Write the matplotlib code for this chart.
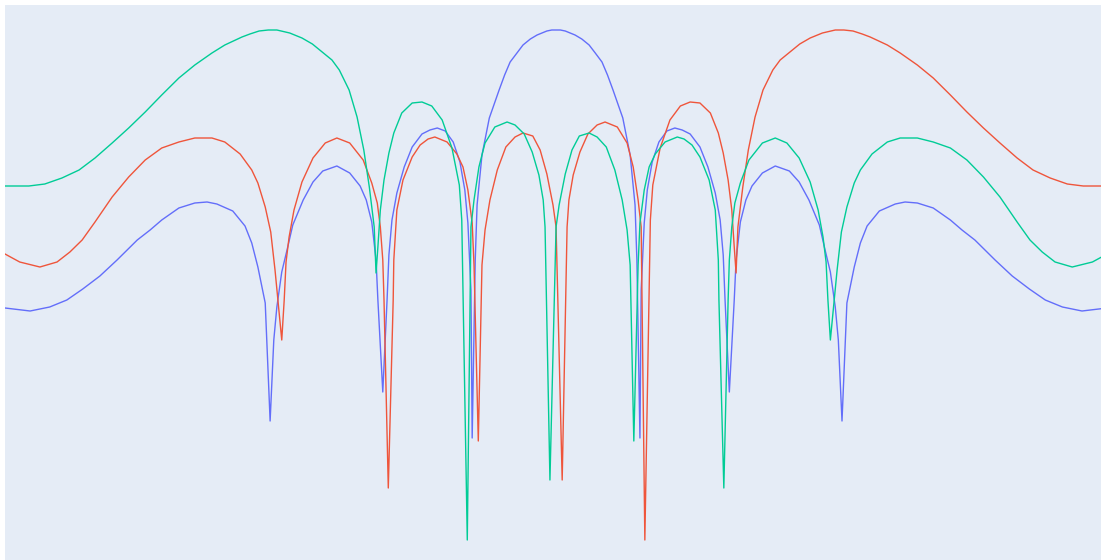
import matplotlib
matplotlib.use("Agg")
import matplotlib.pyplot as plt

# array pattern, angle in degrees, level in dB (relative)
blue_angle = [-90.0, -85.9, -82.7, -79.9, -77.3, -74.5, -71.7, -68.4, -66.3, -64.4,
              -61.6, -59.0, -57.0, -55.4, -52.8, -50.8, -49.7, -48.7, -47.5, -46.7,
              -46.1, -45.6, -44.8, -43.9, -43.0, -41.3, -39.7, -38.1, -35.8, -33.7,
              -32.0, -31.0, -30.1, -29.4, -29.1, -28.3, -27.6, -27.3, -26.8, -26.0,
              -24.8, -23.5, -21.9, -20.6, -19.4, -18.1, -16.8, -15.7, -14.9, -14.4,
              -13.9, -13.7, -13.2, -12.9, -12.1, -10.9, -9.3, -8.4, -7.5, -6.4,
              -5.4, -4.2, -3.1, -2.3, -1.5, -0.7, 0.0, 0.7, 1.5, 2.3,
              3.1, 4.2, 5.4, 6.4, 7.5, 8.4, 9.3, 10.9, 12.1, 12.9,
              13.2, 13.7, 13.9, 14.4, 14.9, 15.7, 16.8, 18.1, 19.4, 20.6,
              21.9, 23.5, 24.8, 26.0, 26.8, 27.3, 27.6, 28.3, 29.1, 29.4,
              30.1, 31.0, 32.0, 33.7, 35.8, 38.1, 39.7, 41.3, 43.0, 43.9,
              44.8, 45.6, 46.1, 46.7, 47.5, 48.7, 49.7, 50.8, 52.8, 55.4,
              57.0, 59.0, 61.6, 64.4, 66.3, 68.4, 71.7, 74.5, 77.3, 79.9,
              82.7, 85.9, 90.0]
blue_db = [-27.8, -28.1, -27.7, -27.0, -25.9, -24.6, -23.0, -21.0, -20.0, -19.0,
           -17.8, -17.3, -17.2, -17.4, -18.1, -19.6, -21.3, -23.7, -27.3, -39.1,
           -31.0, -27.7, -24.2, -21.9, -19.5, -17.0, -15.2, -14.1, -13.6, -14.3,
           -15.6, -17.0, -19.2, -23.0, -27.0, -36.2, -27.0, -22.5, -19.0, -16.3,
           -13.7, -11.7, -10.4, -10.0, -9.8, -10.1, -11.2, -13.2, -16.0, -19.3,
           -26.0, -40.8, -23.0, -17.5, -12.5, -8.8, -6.0, -4.5, -3.2, -2.3,
           -1.5, -0.9, -0.5, -0.3, -0.1, 0.0, 0.0, 0.0, -0.1, -0.3,
           -0.5, -0.9, -1.5, -2.3, -3.2, -4.5, -6.0, -8.8, -12.5, -17.5,
           -23.0, -40.8, -26.0, -19.3, -16.0, -13.2, -11.2, -10.1, -9.8, -10.0,
           -10.4, -11.7, -13.7, -16.3, -19.0, -22.5, -27.0, -36.2, -27.0, -23.0,
           -19.2, -17.0, -15.6, -14.3, -13.6, -14.1, -15.2, -17.0, -19.5, -21.9,
           -24.2, -27.7, -31.0, -39.1, -27.3, -23.7, -21.3, -19.6, -18.1, -17.4,
           -17.2, -17.3, -17.8, -19.0, -20.0, -21.0, -23.0, -24.6, -25.9, -27.0,
           -27.7, -28.1, -27.8]

red_angle = [-90.0, -87.6, -84.3, -81.5, -79.4, -77.4, -75.3, -72.5, -69.8, -67.1,
             -64.4, -61.6, -59.0, -56.2, -54.1, -51.6, -49.7, -48.7, -47.5, -46.6,
             -45.9, -44.8, -44.4, -44.1, -43.6, -42.8, -41.5, -39.7, -37.7, -35.8,
             -33.7, -31.5, -30.1, -29.2, -28.7, -28.3, -28.1, -27.4, -26.6, -26.5,
             -26.0, -25.0, -23.5, -22.2, -20.9, -19.8, -17.8, -16.2, -15.2, -14.4,
             -13.7, -13.4, -12.7, -12.1, -11.6, -10.8, -9.6, -8.2, -6.7, -5.4,
             -3.8, -2.6, -1.5, -0.5, 0.0, 1.0, 1.8, 2.1, 2.8, 3.9,
             5.2, 6.7, 8.0, 10.0, 11.6, 12.6, 13.4, 13.9, 14.5, 15.4,
             15.8, 17.0, 18.6, 20.3, 21.9, 23.5, 25.2, 26.5, 27.3, 28.1,
             28.7, 29.1, 29.4, 29.7, 30.5, 31.4, 32.5, 33.8, 35.4, 36.6,
             38.2, 39.8, 41.5, 43.5, 45.6, 47.0, 48.5, 50.0, 51.3, 52.7,
             54.1, 56.2, 59.0, 61.6, 64.4, 67.1, 69.8, 72.5, 75.3, 77.9,
             80.7, 83.5, 86.1, 90.0]
red_db = [-22.4, -23.2, -23.7, -23.2, -22.2, -21.0, -19.2, -16.7, -14.7, -13.0,
          -11.8, -11.2, -10.8, -10.8, -11.2, -12.4, -14.0, -15.3, -17.7, -20.2,
          -24.0, -31.0, -27.0, -23.2, -20.7, -18.0, -15.2, -12.8, -11.3, -10.8,
          -11.3, -13.0, -15.3, -17.3, -19.7, -23.0, -27.0, -45.8, -27.0, -23.0,
          -18.0, -15.0, -12.7, -11.5, -10.9, -10.7, -11.2, -12.4, -13.7, -16.0,
          -19.3, -23.5, -41.1, -23.5, -20.0, -17.0, -14.0, -11.7, -10.7, -10.3,
          -10.6, -12.0, -14.4, -17.5, -19.7, -45.0, -19.7, -17.0, -14.5, -12.2,
          -10.4, -9.5, -9.2, -9.7, -11.3, -13.7, -17.0, -19.7, -51.0, -19.0,
          -15.5, -11.8, -9.0, -7.6, -7.2, -7.3, -8.3, -10.3, -12.3, -15.0,
          -18.0, -21.7, -24.3, -19.7, -15.7, -12.0, -8.7, -6.0, -4.0, -3.0,
          -2.2, -1.4, -0.8, -0.3, 0.0, 0.0, -0.1, -0.4, -0.7, -1.1,
          -1.5, -2.3, -3.5, -4.8, -6.5, -8.2, -9.8, -11.3, -12.8, -14.0,
          -14.8, -15.4, -15.6, -15.6]

green_angle = [-90.0, -86.1, -83.5, -80.7, -77.9, -75.3, -72.5, -69.8, -67.1, -64.4,
               -61.6, -59.0, -56.2, -54.1, -52.7, -51.3, -50.0, -48.5, -47.0, -45.6,
               -43.5, -41.5, -39.8, -38.2, -36.6, -35.4, -33.8, -32.5, -31.4, -30.5,
               -29.7, -29.4, -29.1, -28.7, -28.1, -27.3, -26.5, -25.2, -23.5, -21.9,
               -20.3, -18.6, -17.0, -15.8, -15.4, -14.5, -13.9, -13.4, -12.6, -11.6,
               -10.0, -8.0, -6.7, -5.2, -3.9, -2.8, -2.1, -1.8, -1.0, 0.0,
               0.5, 1.5, 2.6, 3.8, 5.4, 6.7, 8.2, 9.6, 10.8, 11.6,
               12.1, 12.7, 13.4, 13.7, 14.4, 15.2, 16.2, 17.8, 19.8, 20.9,
               22.2, 23.5, 25.0, 26.0, 26.5, 26.6, 27.4, 28.1, 28.3, 28.7,
               29.2, 30.1, 31.5, 33.7, 35.8, 37.7, 39.7, 41.5, 42.8, 43.6,
               44.1, 44.4, 44.8, 45.9, 46.6, 47.5, 48.7, 49.7, 51.6, 54.1,
               56.2, 59.0, 61.6, 64.4, 67.1, 69.8, 72.5, 75.3, 77.4, 79.4,
               81.5, 84.3, 87.6, 90.0]
green_db = [-15.6, -15.6, -15.4, -14.8, -14.0, -12.8, -11.3, -9.8, -8.2, -6.5,
            -4.8, -3.5, -2.3, -1.5, -1.1, -0.7, -0.4, -0.1, 0.0, 0.0,
            -0.3, -0.8, -1.4, -2.2, -3.0, -4.0, -6.0, -8.7, -12.0, -15.7,
            -19.7, -24.3, -21.7, -18.0, -15.0, -12.3, -10.3, -8.3, -7.3, -7.2,
            -7.6, -9.0, -11.8, -15.5, -19.0, -51.0, -19.7, -17.0, -13.7, -11.3,
            -9.7, -9.2, -9.5, -10.4, -12.2, -14.5, -17.0, -19.7, -45.0, -19.7,
            -17.5, -14.4, -12.0, -10.6, -10.3, -10.7, -11.7, -14.0, -17.0, -20.0,
            -23.5, -41.1, -23.5, -19.3, -16.0, -13.7, -12.4, -11.2, -10.7, -10.9,
            -11.5, -12.7, -15.0, -18.0, -23.0, -27.0, -45.8, -27.0, -23.0, -19.7,
            -17.3, -15.3, -13.0, -11.3, -10.8, -11.3, -12.8, -15.2, -18.0, -20.7,
            -23.2, -27.0, -31.0, -24.0, -20.2, -17.7, -15.3, -14.0, -12.4, -11.2,
            -10.8, -10.8, -11.2, -11.8, -13.0, -14.7, -16.7, -19.2, -21.0, -22.2,
            -23.2, -23.7, -23.2, -22.4]

fig = plt.figure(figsize=(11.01, 5.60), dpi=100)
fig.patch.set_facecolor('white')
ax = fig.add_axes([5 / 1101, 0.0, 1096 / 1101, 555 / 560])
ax.set_facecolor('#E5ECF6')

ax.plot(blue_angle, blue_db, color='#636EFA', linewidth=1.0)
ax.plot(red_angle, red_db, color='#EF553B', linewidth=1.0)
ax.plot(green_angle, green_db, color='#00CC96', linewidth=1.0)

ax.set_xlim(-90.0, 89.0)
ax.set_ylim(-53.0, 2.5)
ax.set_xticks([])
ax.set_yticks([])
for s in ax.spines.values():
    s.set_visible(False)

fig.savefig('out.png', dpi=100, facecolor='white')
